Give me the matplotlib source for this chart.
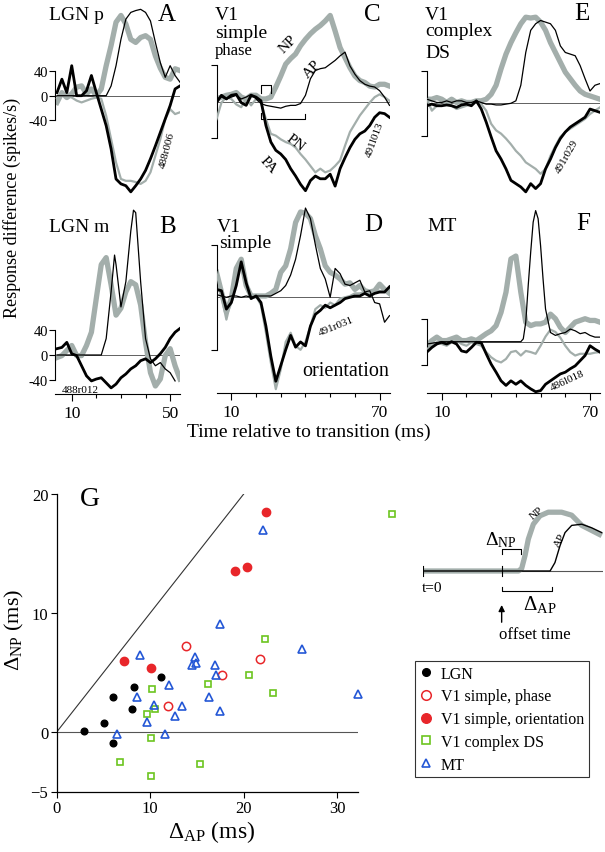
import matplotlib
matplotlib.use("Agg")
import matplotlib.pyplot as plt

plt.rcParams['font.family'] = ['Liberation Serif', 'DejaVu Serif']
plt.rcParams['mathtext.fontset'] = 'custom'
plt.rcParams['mathtext.rm'] = 'Liberation Serif'
plt.rcParams['mathtext.it'] = 'Liberation Serif:italic'

# ---- panel curves (time in ms, response difference in spikes/s) ----
# LGN panels (A, B)
t_ab = [4, 6, 8, 10, 12, 14, 16, 18, 20, 22, 24, 26, 28, 30, 32, 34, 36, 38,
        40, 42, 44, 46, 48, 50, 52, 54]
A_np = [-11, 5, -3, 3, 14, 16, 3, 11, 0, 11, 49, 82, 120, 131, 117, 92, 87, 95,
        98, 92, 65, 45, 30, 27, 44, 41]
A_pn = [-5, 0, 0, -3, -8, -11, -8, -5, -3, -5, -33, -71, -109, -136, -139, -139,
        -141, -144, -139, -125, -98, -71, -38, -22, -30, -27]
A_pa = [5, 27, 5, 49, 0, 0, 8, 33, 5, -22, -49, -87, -136, -144, -147, -157,
        -147, -136, -122, -103, -82, -60, -38, -16, 11, 16]
A_ap = [0, 0, 0, 0, 0, 0, 0, 0, 0, 0, 0, 16, 49, 92, 125, 136, 139, 141, 136,
        122, 87, 54, 30, 49, 33, 22]

B_np = [-4, -1, 7, 15, -1, -1, 15, 36, 90, 143, 154, 111, 63, 74, 100, 116, 111,
        79, 20, -28, -49, -38, -1, 10, -17, -38]
B_pa = [10, 12, 20, 2, -1, -17, -33, -41, -38, -36, -44, -52, -46, -36, -30, -22,
        -17, -9, -6, -12, -6, 2, 12, 26, 36, 42]
t_b_ap = [4, 20, 22, 24, 26, 27.4, 28, 30, 32, 34, 35.1, 36, 38, 40, 42, 44, 46,
          48, 50, 52]
B_ap = [0, 0, 0, 26, 100, 158, 143, 76, 116, 196, 229, 225, 116, 26, -6, -17,
        -12, -22, -28, -41]

# V1 / MT panels (C-F)
t_cf = [4, 6, 8, 10, 12, 14, 16, 18, 20, 22, 24, 26, 28, 30, 32, 34, 36, 38, 40,
        42, 44, 46, 48, 50, 52, 54, 56, 58, 60, 62, 64, 66, 68, 70, 72, 74]
C_np = [3, 5, 7, 8, 10, 5, 3, 7, 7, 3, 3, 5, 16, 28, 41, 47, 52, 61, 68, 74, 79,
        83, 88, 94, 77, 59, 48, 37, 28, 23, 21, 17, 16, 19, 19, 17]
C_ap = [3, 5, 3, 5, 7, 3, 5, 8, 3, -2, -4, -5, -6, -7, -5, -4, -4, -2, 7, 25, 34,
        36, 37, 41, 45, 50, 54, 39, 30, 23, 19, 17, 16, 12, 5, -4]
C_pa = [-1, 7, 3, 7, 8, -1, -4, 7, 5, 1, -26, -44, -53, -57, -63, -73, -81, -90,
        -97, -86, -81, -84, -84, -79, -92, -73, -61, -50, -41, -35, -32, -26, -17,
        -12, -13, -17]
C_pn = [-19, -1, 5, 3, -3, -6, 3, -4, 3, -1, -19, -35, -37, -41, -44, -46, -50,
        -57, -63, -70, -77, -73, -77, -75, -70, -64, -48, -33, -24, -15, -8, -1,
        5, 8, 5, 1]

D_np = [19, 4, -11, -1, 22, 29, 9, 1, 1, 1, 1, 3, 6, 19, 24, 37, 57, 65, 64, 60,
        47, 37, 24, 19, 17, 14, 10, 11, 6, 9, 5, 4, 5, 10, 6, 3]
D_ap = [2, 1, 0, 1, 1, 0, 1, 0, 1, 1, 1, 1, 3, 5, 9, 17, 29, 47, 68, 60, 40, 22,
        14, 0, 22, 18, 10, 9, 11, 13, 4, 5, -4, -5, -19, -14]
D_pa = [6, 5, -9, -4, 9, 27, 11, -1, 1, -4, -22, -45, -64, -52, -40, -29, -38,
        -34, -37, -22, -13, -10, -6, -8, -6, -4, -1, 0, 1, 1, 3, 1, 3, 4, 4, 8]
D_pn = [19, 1, -17, -1, 17, 22, 9, 0, 1, -6, -27, -50, -70, -55, -34, -27, -37,
        -40, -34, -22, -9, -6, -8, -4, -6, -1, 0, 1, 3, 3, 4, 3, 4, 5, 4, 6]

E_np = [5, 5, 7, 5, 1, 5, 1, 3, 1, 1, 3, 3, 5, 11, 22, 42, 60, 74, 86, 97, 105,
        104, 105, 99, 89, 74, 62, 50, 38, 30, 22, 15, 11, 9, 7, 5]
E_ap = [5, 3, 1, 1, 3, 1, 3, 3, 1, 1, 3, 1, -1, -1, -2, -2, -1, 0, 3, 22, 62, 89,
        97, 101, 99, 97, 89, 70, 62, 60, 58, 46, 30, 15, 22, 24]
E_pa = [-3, -1, -3, -3, -2, -3, -5, -2, -1, -3, 3, -7, -23, -41, -58, -68, -80,
        -94, -98, -102, -108, -98, -104, -98, -80, -68, -54, -43, -35, -29, -25,
        -21, -17, -7, -9, -11]
E_pn = [5, -9, -3, 3, 3, -3, -7, -5, -3, -1, 1, -1, -9, -25, -33, -37, -43, -50,
        -58, -64, -72, -76, -80, -86, -80, -64, -52, -41, -35, -31, -27, -23, -19,
        -13, -9, -5]

F_np = [-6, 3, 9, 3, 3, 6, 9, 3, 3, 6, 3, 9, 15, 20, 29, 52, 87, 145, 150, 87,
        35, 29, 32, 32, 35, 49, 41, 26, 17, 26, 35, 38, 41, 38, 38, 35]
t_f_ap = [4, 10, 20, 30, 40, 42, 43, 44, 45, 46, 47, 48, 49, 50, 51, 52, 54, 56,
          58, 60, 62, 64, 66, 68, 70, 72, 74]
F_ap = [-3, 1, 1, 1, 1, 1, 6, 35, 99, 157, 209, 229, 215, 168, 110, 58, 17, 12,
        15, 17, 23, 20, 15, 17, 12, 9, 9]
F_pa = [-17, -9, -3, 0, -3, 1, -3, -15, -17, -9, 0, -1, -20, -38, -52, -67, -75,
        -67, -73, -67, -75, -81, -86, -84, -73, -67, -61, -55, -52, -46, -41, -32,
        -23, -6, -12, -17]
F_pn = [-12, -6, 0, -3, -6, 0, 3, -3, -6, 0, -3, -6, -17, -26, -32, -35, -29, -17,
        -15, -23, -15, -17, -20, -6, 10, 22, 18, 8, -6, -17, -23, -20, -20, -20,
        -18, -17]

# ---- panel G scatter: (delta AP, delta NP) in ms ----
lgn_ap = [2.9, 5.1, 6.05, 6.0, 8.1, 8.3, 11.2]
lgn_np = [0.1, 0.76, -0.95, 2.95, 1.9, 3.75, 4.6]
v1ph_ap = [13.8, 21.7, 17.7, 11.9]
v1ph_np = [7.2, 6.1, 4.8, 2.2]
v1or_ap = [22.4, 19.1, 20.4, 7.2, 10.05]
v1or_np = [18.5, 13.5, 13.9, 6.0, 5.4]
cx_ap = [35.9, 22.3, 20.6, 16.2, 10.2, 23.1, 10.5, 9.7, 10.1, 6.8, 15.3, 10.1]
cx_np = [18.3, 7.8, 4.8, 4.0, 3.6, 3.3, 1.96, 1.5, -0.48, -2.5, -2.7, -3.7]
mt_ap = [22.1, 17.5, 26.2, 8.9, 14.8, 14.5, 14.9, 16.9, 17.0, 12.0, 8.6, 16.3,
         32.2, 10.4, 13.4, 17.5, 12.7, 9.7, 6.5, 11.6]
mt_np = [17.0, 9.05, 7.0, 6.5, 6.3, 5.6, 5.8, 5.6, 4.8, 3.95, 2.97, 2.9, 3.2,
         2.27, 2.15, 1.8, 1.37, 0.8, -0.17, -0.14]

# schematic inset (relative units)
sch_np_t = [0, 53, 54.8, 56.7, 58.5, 61.3, 65, 69.6, 77, 82.6, 88.2, 99.3]
sch_np_v = [0, 0, 0.04, 0.26, 0.53, 0.78, 0.92, 0.98, 0.98, 0.93, 0.76, 0.59]
sch_ap_t = [0, 70.6, 73.3, 76.1, 78.9, 82.6, 88.2, 93.7, 99.3]
sch_ap_v = [0, 0, 0.14, 0.42, 0.64, 0.76, 0.78, 0.72, 0.64]

GRAY = '#a3aeab'
W, H = 605, 853
fig = plt.figure(figsize=(W / 100, H / 100), dpi=100)


def px_ax(x0, y0, x1, y1):
    return fig.add_axes([x0 / W, 1 - y1 / H, (x1 - x0) / W, (y1 - y0) / H])


def ftxt(x, y, s, **kw):
    fig.text(x / W, 1 - y / H, s, **kw)


def panel(x0, x1, xlim, yzero, ppu, ytop, ybot, xt=None, xl=None, ylab=False):
    ax = px_ax(x0, ytop, x1, ybot)
    ax.patch.set_alpha(0)
    ax.set_xlim(xlim)
    ax.set_ylim(-(ybot - yzero) / ppu, (yzero - ytop) / ppu)
    ax.spines['top'].set_visible(False)
    ax.spines['right'].set_visible(False)
    ax.spines['left'].set_bounds(-40, 40)
    ax.spines['left'].set_linewidth(0.8)
    if ylab:
        ax.set_yticks([-40, 0, 40])
        ax.set_yticklabels(['-40', '0', '40'])
    else:
        ax.set_yticks([-40, 40])
        ax.set_yticklabels([])
    ax.tick_params(axis='y', direction='out', length=4, width=0.8, pad=1,
                   labelsize=10.5)
    if xt is None:
        ax.spines['bottom'].set_visible(False)
        ax.set_xticks([])
    else:
        ax.spines['bottom'].set_linewidth(0.8)
        ax.set_xticks(xt)
        ax.set_xticklabels(xl)
        ax.tick_params(axis='x', direction='out', length=3, width=0.8, pad=5,
                       labelsize=12.5)
    ax.axhline(0, color='#606060', lw=0.7, zorder=1)
    return ax


def curves(ax, t_np, np_, t_pn, pn, t_pa, pa, t_ap, ap):
    ax.plot(t_np, np_, color=GRAY, lw=3.8, solid_joinstyle='round', zorder=2)
    if pn is not None:
        ax.plot(t_pn, pn, color=GRAY, lw=1.6, zorder=3)
    ax.plot(t_pa, pa, color='black', lw=2.0, zorder=4)
    ax.plot(t_ap, ap, color='black', lw=0.9, zorder=5)


axA = panel(55, 180, (3.2, 54), 96.7, 24.5 / 40, 0, 200, ylab=True)
curves(axA, t_ab, A_np, t_ab, A_pn, t_ab, A_pa, t_ab, A_ap)
axB = panel(55, 180, (3.2, 54), 356, 25.3 / 40, 205, 395,
            xt=[10, 20, 30, 40, 50], xl=['10', '', '', '', '50'], ylab=True)
curves(axB, t_ab, B_np, None, None, t_ab, B_pa, t_b_ap, B_ap)

cf_ticks = [10, 20, 30, 40, 50, 60, 70]
cf_lab = ['10', '', '', '', '', '', '70']
axC = panel(216.5, 389.5, (4, 74), 102.7, 36.7 / 40, 0, 200)
curves(axC, t_cf, C_np, t_cf, C_pn, t_cf, C_pa, t_cf, C_ap)
axD = panel(216.5, 389.5, (4, 74), 298.3, 52.5 / 40, 205, 394.3,
            xt=cf_ticks, xl=cf_lab)
curves(axD, t_cf, D_np, t_cf, D_pn, t_cf, D_pa, t_cf, D_ap)
axE = panel(426.9, 599.9, (4, 74), 104.3, 32.8 / 40, 0, 200)
curves(axE, t_cf, E_np, t_cf, E_pn, t_cf, E_pa, t_cf, E_ap)
axF = panel(426.9, 599.9, (4, 74), 343.3, 23 / 40, 205, 394.3,
            xt=cf_ticks, xl=cf_lab)
curves(axF, t_cf, F_np, t_cf, F_pn, t_cf, F_pa, t_f_ap, F_ap)

for ax in (axB, axD, axF):
    for tk, lab in zip(ax.xaxis.get_major_ticks(), ax.get_xticklabels()):
        if lab.get_text():
            tk.tick1line.set_markersize(5)

# brackets in C
axC.plot([22, 22, 26.2, 26.2], [10, 18, 18, 10], color='black', lw=0.8)
axC.plot([22, 22, 39.7, 39.7], [-12, -19, -19, -13], color='black', lw=0.8)

# panel texts
ftxt(49, 15, 'LGN p', fontsize=14, va='center')
ftxt(167, 15, 'A', fontsize=18, ha='center', va='center')
ftxt(49, 228, 'LGN m', fontsize=14, va='center')
ftxt(168, 227, 'B', fontsize=18, ha='center', va='center')
ftxt(215, 15, 'V1', fontsize=14, va='center')
ftxt(215, 33, 'simple', fontsize=14, va='center')
ftxt(215, 51, 'phase', fontsize=12, va='center')
ftxt(372, 15, 'C', fontsize=18, ha='center', va='center')
ftxt(217, 228, 'V1', fontsize=14, va='center')
ftxt(219, 244, 'simple', fontsize=14, va='center')
ftxt(373, 225, 'D', fontsize=18, ha='center', va='center')
ftxt(425, 15, 'V1', fontsize=14, va='center')
ftxt(425, 32, 'complex', fontsize=14, va='center')
ftxt(425, 53, 'DS', fontsize=14, va='center')
ftxt(582, 14, 'E', fontsize=18, ha='center', va='center')
ftxt(427, 227, 'MT', fontsize=14, va='center')
ftxt(583, 224, 'F', fontsize=18, ha='center', va='center')
ftxt(302, 372, 'orientation', fontsize=14.5, va='center')

ftxt(288, 45, 'NP', fontsize=11, rotation=45, ha='center', va='center')
ftxt(312, 70, 'AP', fontsize=11, rotation=45, ha='center', va='center')
ftxt(295, 143, 'PN', fontsize=11, rotation=-38, ha='center', va='center')
ftxt(268, 165, 'PA', fontsize=11, rotation=-48, ha='center', va='center')

ftxt(167, 150, '488r006', fontsize=8, rotation=75, ha='center', va='center')
ftxt(80, 391, '488r012', fontsize=8, ha='center', va='center')
ftxt(375, 140, '491l013', fontsize=8, rotation=70, ha='center', va='center')
ftxt(336, 327, '491r031', fontsize=8, rotation=22, ha='center', va='center')
ftxt(567, 157, '491r029', fontsize=8, rotation=60, ha='center', va='center')
ftxt(567, 381, '486l018', fontsize=8, rotation=25, ha='center', va='center')

ftxt(12, 208, 'Response difference (spikes/s)', fontsize=13, rotation=90,
     ha='center', va='center')
ftxt(309, 432, 'Time relative to transition (ms)', fontsize=14,
     ha='center', va='center')

# ---- panel G ----
axG = px_ax(56.7, 495, 357.8, 792.5)
axG.patch.set_alpha(0)
axG.set_xlim(0, 32.2)
axG.set_ylim(-5, 20)
axG.spines['top'].set_visible(False)
axG.spines['right'].set_visible(False)
axG.spines['left'].set_linewidth(0.9)
axG.spines['bottom'].set_linewidth(0.9)
axG.set_xticks([0, 10, 20, 30])
axG.set_yticks([-5, 0, 10, 20])
axG.tick_params(direction='out', length=4, width=0.8, labelsize=12, pad=2)
axG.axhline(0, color='#555555', lw=0.8, zorder=1)
axG.plot([0, 20], [0, 20], color='#333333', lw=0.8, zorder=1)

RED = '#e8262a'
GREEN = '#6cc51f'
BLUE = '#2457d6'
h1, = axG.plot(lgn_ap, lgn_np, 'o', color='black', ms=4.8, ls='none',
               clip_on=False, label='LGN')
h2, = axG.plot(v1ph_ap, v1ph_np, 'o', mfc='none', mec=RED, mew=1.1, ms=6,
               ls='none', clip_on=False, label='V1 simple, phase')
h3, = axG.plot(v1or_ap, v1or_np, 'o', color=RED, ms=6, ls='none',
               clip_on=False, label='V1 simple, orientation')
h4, = axG.plot(cx_ap, cx_np, 's', mfc='none', mec=GREEN, mew=1.2, ms=5,
               ls='none', clip_on=False, label='V1 complex DS')
h5, = axG.plot(mt_ap, mt_np, '^', mfc='none', mec=BLUE, mew=1.2, ms=5.5,
               ls='none', clip_on=False, label='MT')

ftxt(90, 500, 'G', fontsize=20, ha='center', va='center')
ftxt(14, 630, 'Δ$_{\\mathrm{NP}}$ (ms)', fontsize=16, rotation=90,
     ha='center', va='center')
ftxt(212, 832, 'Δ$_{\\mathrm{AP}}$ (ms)', fontsize=17, ha='center',
     va='center')

leg = fig.legend(handles=[h1, h2, h3, h4, h5], loc='upper left',
                 bbox_to_anchor=(415 / W, 1 - 662 / H), fontsize=11.5,
                 frameon=True, fancybox=False, edgecolor='black',
                 handlelength=0.8, handletextpad=0.5, labelspacing=0.42,
                 borderpad=0.3, borderaxespad=0, markerscale=1.15)
leg.get_frame().set_linewidth(0.8)

# ---- schematic inset ----
axS = px_ax(423, 500, 603, 638)
axS.set_xlim(0, 100)
axS.set_ylim(-1.1, 1.2)
axS.axis('off')
axS.plot([0, 100], [0, 0], color='#555555', lw=0.8)
axS.plot(sch_np_t, sch_np_v, color=GRAY, lw=3.8, solid_capstyle='butt')
axS.plot(sch_ap_t, sch_ap_v, color='black', lw=1.0)
axS.plot([0, 0], [-0.08, 0.08], color='black', lw=0.8)
axS.plot([43.7, 43.7], [-0.09, 0.09], color='black', lw=0.8)
axS.plot([43.7, 43.7, 54.3, 54.3], [0.28, 0.37, 0.37, 0.28], color='black',
         lw=0.8)
axS.plot([43.7, 43.7, 71.5, 71.5], [-0.26, -0.33, -0.33, -0.26],
         color='black', lw=0.8)
axS.annotate('', xy=(43.7, -0.52), xytext=(43.7, -0.9),
             arrowprops=dict(arrowstyle='-|>', color='black', lw=1.0,
                             mutation_scale=9))

ftxt(501, 540, 'Δ$_{\\mathrm{NP}}$', fontsize=14, ha='center', va='center')
ftxt(540, 605, 'Δ$_{\\mathrm{AP}}$', fontsize=15, ha='center', va='center')
ftxt(432, 588, 't=0', fontsize=11, ha='center', va='center')
ftxt(535, 635, 'offset time', fontsize=12, ha='center', va='center')
ftxt(537, 513, 'NP', fontsize=8, rotation=40, ha='center', va='center')
ftxt(560, 541, 'AP', fontsize=8, rotation=62, ha='center', va='center')

fig.savefig('out.png', dpi=100)
